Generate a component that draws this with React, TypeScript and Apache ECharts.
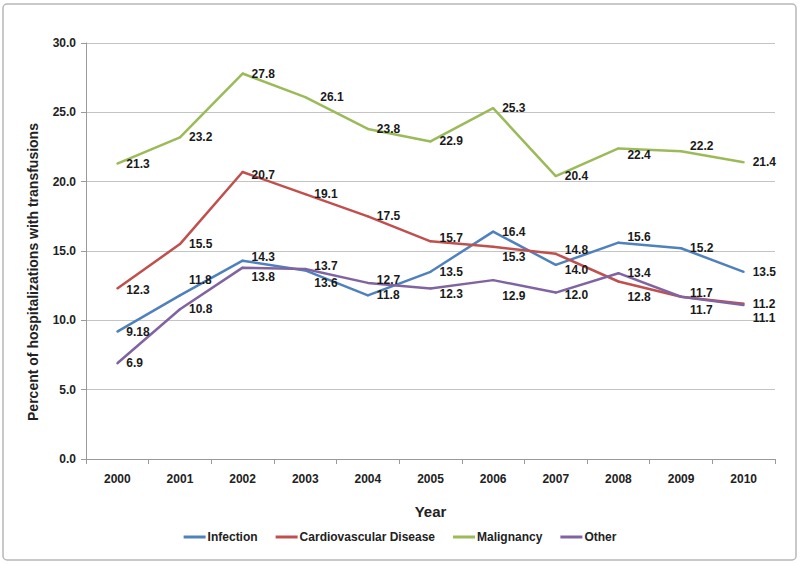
import React, { useEffect, useRef } from "react";
import * as echarts from "echarts";

const years = ["2000", "2001", "2002", "2003", "2004", "2005", "2006", "2007", "2008", "2009", "2010"];
const infection = [9.18, 11.8, 14.3, 13.6, 11.8, 13.5, 16.4, 14.0, 15.6, 15.2, 13.5];
const cardiovascular = [12.3, 15.5, 20.7, 19.1, 17.5, 15.7, 15.3, 14.8, 12.8, 11.7, 11.2];
const malignancy = [21.3, 23.2, 27.8, 26.1, 23.8, 22.9, 25.3, 20.4, 22.4, 22.2, 21.4];
const other = [6.9, 10.8, 13.8, 13.7, 12.7, 12.3, 12.9, 12.0, 13.4, 11.7, 11.1];
const yTicks = { min: 0, max: 30, interval: 5 };
const yAxisTitle = "Percent of hospitalizations with transfusions";

// label nudges (styling only): [dx, dy] per point index
const infectionShift: Record<number, [number, number]> = { 1: [0, -15], 2: [0, -4], 3: [0, 13], 7: [0, 5], 8: [0, -6] };
const cardioShift: Record<number, [number, number]> = { 0: [0, 2], 2: [0, 3], 5: [0, -3], 6: [0, 10], 7: [0, -4], 8: [0, 15], 9: [0, -4] };
const malignancyShift: Record<number, [number, number]> = { 3: [6, 0], 8: [0, 7], 9: [0, -5] };
const otherShift: Record<number, [number, number]> = { 2: [0, 9], 3: [0, -3], 4: [0, -3], 5: [0, 6], 6: [0, 16], 7: [0, 2], 9: [0, 13], 10: [0, 13] };

const FONT = "'Liberation Sans', Arial, sans-serif";

export default function App() {
  const ref = useRef<HTMLDivElement>(null);
  useEffect(() => {
    document.body.style.margin = "0";
    if (!ref.current) return;
    const chart = echarts.init(ref.current, null, { renderer: "svg" });
    const mk = (name: string, values: number[], color: string, shift: Record<number, [number, number]>) => ({
      name,
      type: "line",
      symbol: "circle",
      symbolSize: 2,
      lineStyle: { color, width: 2.5 },
      itemStyle: { color },
      label: {
        show: true,
        position: "right",
        distance: 8,
        fontFamily: FONT,
        fontWeight: "bold",
        fontSize: 12,
        color: "#1a1a1a",
        formatter: (p: any) => (name === "Infection" && p.dataIndex === 0 ? "9.18" : Number(p.value).toFixed(1)),
      },
      data: values.map((v, i) => (shift[i] ? { value: v, label: { offset: shift[i] } } : v)),
    });
    chart.setOption({
      animation: false,
      backgroundColor: "#ffffff",
      textStyle: { fontFamily: FONT },
      graphic: [
        {
          type: "rect",
          shape: { x: 3, y: 4, width: 793, height: 556, r: 4 },
          style: { fill: "none", stroke: "#b8b8b8", lineWidth: 1.5 },
          silent: true,
        },
        {
          type: "text",
          x: 33,
          y: 272,
          rotation: Math.PI / 2,
          silent: true,
          style: {
            text: yAxisTitle,
            align: "center",
            verticalAlign: "middle",
            fontFamily: FONT,
            fontWeight: "bold",
            fontSize: 14,
            fill: "#222",
          },
        },
      ],
      grid: { left: 86, right: 25, top: 43, bottom: 105 },
      legend: {
        bottom: 16,
        left: "center",
        icon: "rect",
        itemWidth: 22,
        itemHeight: 3,
        itemGap: 18,
        textStyle: { fontFamily: FONT, fontWeight: "bold", fontSize: 12, color: "#222", padding: [0, 0, 0, -3] },
        data: ["Infection", "Cardiovascular Disease", "Malignancy", "Other"],
      },
      xAxis: {
        type: "category",
        data: years,
        boundaryGap: true,
        name: "Year",
        nameLocation: "middle",
        nameGap: 45,
        nameTextStyle: { fontFamily: FONT, fontWeight: "bold", fontSize: 15, color: "#222" },
        axisLine: { lineStyle: { color: "#9a9a9a", width: 1 } },
        axisTick: { show: true, alignWithLabel: false, length: 5, lineStyle: { color: "#9a9a9a" } },
        axisLabel: { margin: 14, fontFamily: FONT, fontWeight: "bold", fontSize: 12, color: "#222" },
        splitLine: { show: false },
      },
      yAxis: {
        type: "value",
        min: yTicks.min,
        max: yTicks.max,
        interval: yTicks.interval,
        axisLine: { show: true, lineStyle: { color: "#9a9a9a", width: 1 } },
        axisTick: { show: true, length: 5, lineStyle: { color: "#9a9a9a" } },
        axisLabel: {
          margin: 10,
          fontFamily: FONT,
          fontWeight: "bold",
          fontSize: 12,
          color: "#222",
          formatter: (v: number) => v.toFixed(1),
        },
        splitLine: { show: true, lineStyle: { color: "#c4c4c4", width: 1 } },
      },
      series: [
        mk("Infection", infection, "#4F81BD", infectionShift),
        mk("Cardiovascular Disease", cardiovascular, "#C0504D", cardioShift),
        mk("Malignancy", malignancy, "#9BBB59", malignancyShift),
        mk("Other", other, "#8064A2", otherShift),
      ],
    });
    return () => chart.dispose();
  }, []);
  return <div ref={ref} style={{ width: 800, height: 564 }} />;
}
